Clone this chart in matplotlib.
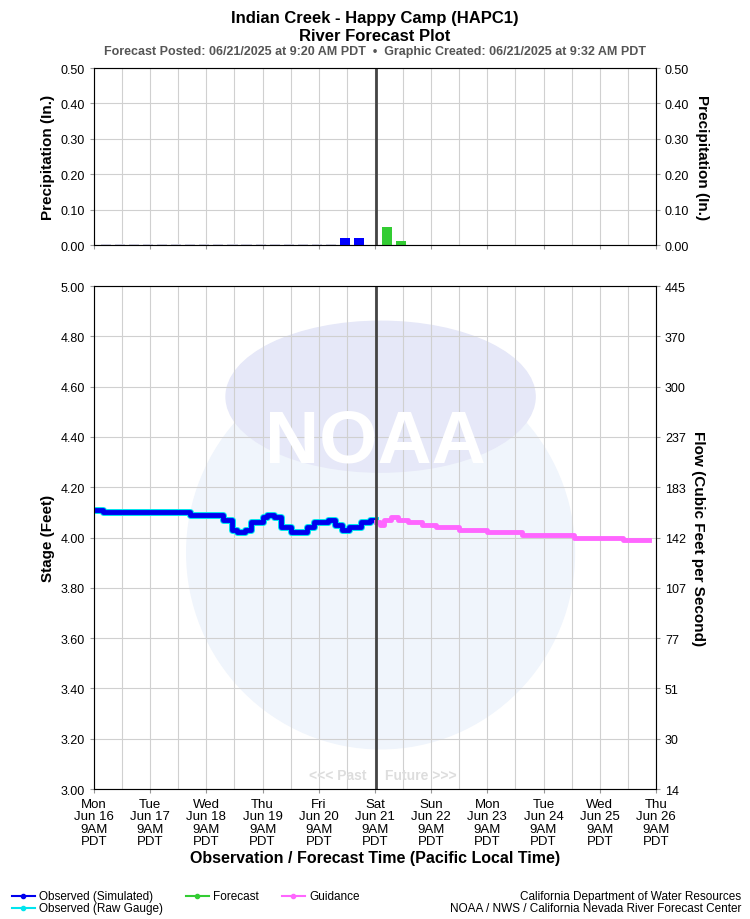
import numpy as np
import matplotlib.pyplot as plt
from matplotlib.lines import Line2D
from matplotlib.patches import Ellipse

plt.rcParams["font.family"] = "Liberation Sans"

# hours since Mon Jun 16 9AM PDT
obs_hours = [0, 4, 39, 41, 52, 55, 59, 61, 64.5, 67, 72, 74, 77, 80, 84, 88, 91, 94,
             100, 103, 106, 109, 114, 118, 120]
obs_stage = [4.11, 4.10, 4.10, 4.09, 4.09, 4.07, 4.03, 4.02, 4.03, 4.06, 4.08, 4.09,
             4.08, 4.04, 4.02, 4.02, 4.04, 4.06, 4.07, 4.05, 4.03, 4.04, 4.06, 4.07, 4.07]
guid_hours = [120.5, 122, 124, 127, 130, 134, 140, 146, 156, 168, 183, 205, 226, 237]
guid_stage = [4.06, 4.05, 4.07, 4.08, 4.07, 4.06, 4.05, 4.04, 4.03, 4.02, 4.01, 4.00,
              3.99, 3.99]

precip_obs_hours = [105, 111]
precip_obs = [0.02, 0.02]
precip_fcst_hours = [123, 129]
precip_fcst = [0.05, 0.01]
precip_zero_hours = list(range(3, 103, 6))

stage_ticks = [3.0, 3.2, 3.4, 3.6, 3.8, 4.0, 4.2, 4.4, 4.6, 4.8, 5.0]
flow_labels = ["14", "30", "51", "77", "107", "142", "183", "237", "300", "370", "445"]
day_labels = ["Mon\nJun 16", "Tue\nJun 17", "Wed\nJun 18", "Thu\nJun 19", "Fri\nJun 20",
              "Sat\nJun 21", "Sun\nJun 22", "Mon\nJun 23", "Tue\nJun 24", "Wed\nJun 25",
              "Thu\nJun 26"]
now_hour = 120.3

fig = plt.figure(figsize=(7.5, 9.2), dpi=100)
axp = fig.add_axes([0.1253, 0.7326, 0.7493, 0.1924])
axs = fig.add_axes([0.1253, 0.1413, 0.7493, 0.5467])

grid_kw = dict(color="#d0d0d0", lw=0.8)
for ax in (axp, axs):
    ax.set_xlim(0, 240)
    ax.set_xticks(np.arange(0, 241, 24))
    ax.set_xticks(np.arange(0, 241, 12), minor=True)
    ax.grid(True, which="both", **grid_kw)
    ax.set_axisbelow(True)
    for s in ax.spines.values():
        s.set_color("#999999")
    ax.axvline(now_hour, color="#444444", lw=2, zorder=5)
    ax.tick_params(labelsize=9, length=3, color="#999999")
    ax.tick_params(which="minor", length=0)

# precipitation
axp.set_ylim(0, 0.5)
axp.set_yticks(np.arange(0, 0.51, 0.1))
axp.set_yticklabels([f"{v:.2f}" for v in np.arange(0, 0.51, 0.1)])
axp.set_xticklabels([])
axp.bar(precip_zero_hours, [0.002] * len(precip_zero_hours), width=4.3, align="edge",
        color="#ccccdd", zorder=3)
axp.bar(precip_obs_hours, precip_obs, width=4.3, align="edge", color="#0000ff", zorder=3)
axp.bar(precip_fcst_hours, precip_fcst, width=4.3, align="edge", color="#33cc33", zorder=3)
axp.set_ylabel("Precipitation (In.)", fontsize=11, fontweight="bold")
axp2 = axp.twinx()
axp2.set_ylim(0, 0.5)
axp2.set_yticks(np.arange(0, 0.51, 0.1))
axp2.set_yticklabels([f"{v:.2f}" for v in np.arange(0, 0.51, 0.1)])
axp2.tick_params(labelsize=9, length=3, color="#999999")
axp2.set_ylabel("Precipitation (In.)", fontsize=11, fontweight="bold", rotation=270,
                labelpad=14)

# stage
axs.add_patch(Ellipse((0.51, 0.47), 0.69, 0.78, transform=axs.transAxes,
                      color="#f0f5fc", zorder=0))
axs.add_patch(Ellipse((0.51, 0.78), 0.55, 0.30, transform=axs.transAxes,
                      color="#e6e8f8", zorder=0))
axs.text(0.5, 0.69, "NOAA", transform=axs.transAxes, ha="center", va="center",
         fontsize=54, fontweight="bold", color="#ffffff", zorder=1)
axs.set_ylim(3.0, 5.0)
axs.set_yticks(stage_ticks)
axs.set_yticklabels([f"{v:.2f}" for v in stage_ticks])
axs.set_xticklabels([d + "\n9AM\nPDT" for d in day_labels], fontsize=9.5,
                    linespacing=1.05)
axs.step(obs_hours, obs_stage, where="post", color="#00e5ee", lw=5, zorder=3)
axs.step(obs_hours, obs_stage, where="post", color="#0000ee", lw=3.5, zorder=4)
axs.step(guid_hours, guid_stage, where="post", color="#ff66ff", lw=3.5, zorder=4)
axs.text(now_hour - 4, 3.04, "<<< Past", ha="right", fontsize=10, fontweight="bold",
         color="#dddddd")
axs.text(now_hour + 4, 3.04, "Future >>>", ha="left", fontsize=10, fontweight="bold",
         color="#dddddd")
axs.set_ylabel("Stage (Feet)", fontsize=11, fontweight="bold")
axs.set_xlabel("Observation / Forecast Time (Pacific Local Time)", fontsize=11.5,
               fontweight="bold", labelpad=2)
axs2 = axs.twinx()
axs2.set_ylim(3.0, 5.0)
axs2.set_yticks(stage_ticks)
axs2.set_yticklabels(flow_labels)
axs2.tick_params(labelsize=9, length=3, color="#999999")
axs2.set_ylabel("Flow (Cubic Feet per Second)", fontsize=11, fontweight="bold",
                rotation=270, labelpad=14)

# titles
fig.text(0.5, 0.9875, "Indian Creek - Happy Camp (HAPC1)", ha="center", va="top",
         fontsize=12, fontweight="bold")
fig.text(0.5, 0.9685, "River Forecast Plot", ha="center", va="top", fontsize=12,
         fontweight="bold")
fig.text(0.5, 0.9495, "Forecast Posted: 06/21/2025 at 9:20 AM PDT  \u2022  "
         "Graphic Created: 06/21/2025 at 9:32 AM PDT", ha="center", va="top",
         fontsize=9, fontweight="bold", color="#555555")

# legend
legend_items = [(0.016, 0.025, "#0000ee", "Observed (Simulated)"),
                (0.016, 0.012, "#00e5ee", "Observed (Raw Gauge)"),
                (0.248, 0.025, "#33cc33", "Forecast"),
                (0.376, 0.025, "#ff66ff", "Guidance")]
for x, y, c, label in legend_items:
    fig.add_artist(Line2D([x, x + 0.015, x + 0.03], [y, y, y], color=c, lw=1.5,
                          marker="o", markersize=3, markevery=[1],
                          transform=fig.transFigure))
    fig.text(x + 0.036, y, label, va="center", fontsize=8.5)
fig.text(0.988, 0.025, "California Department of Water Resources", ha="right",
         va="center", fontsize=8.5)
fig.text(0.988, 0.012, "NOAA / NWS / California Nevada River Forecast Center",
         ha="right", va="center", fontsize=8.5)

fig.savefig("out.png", dpi=100)
